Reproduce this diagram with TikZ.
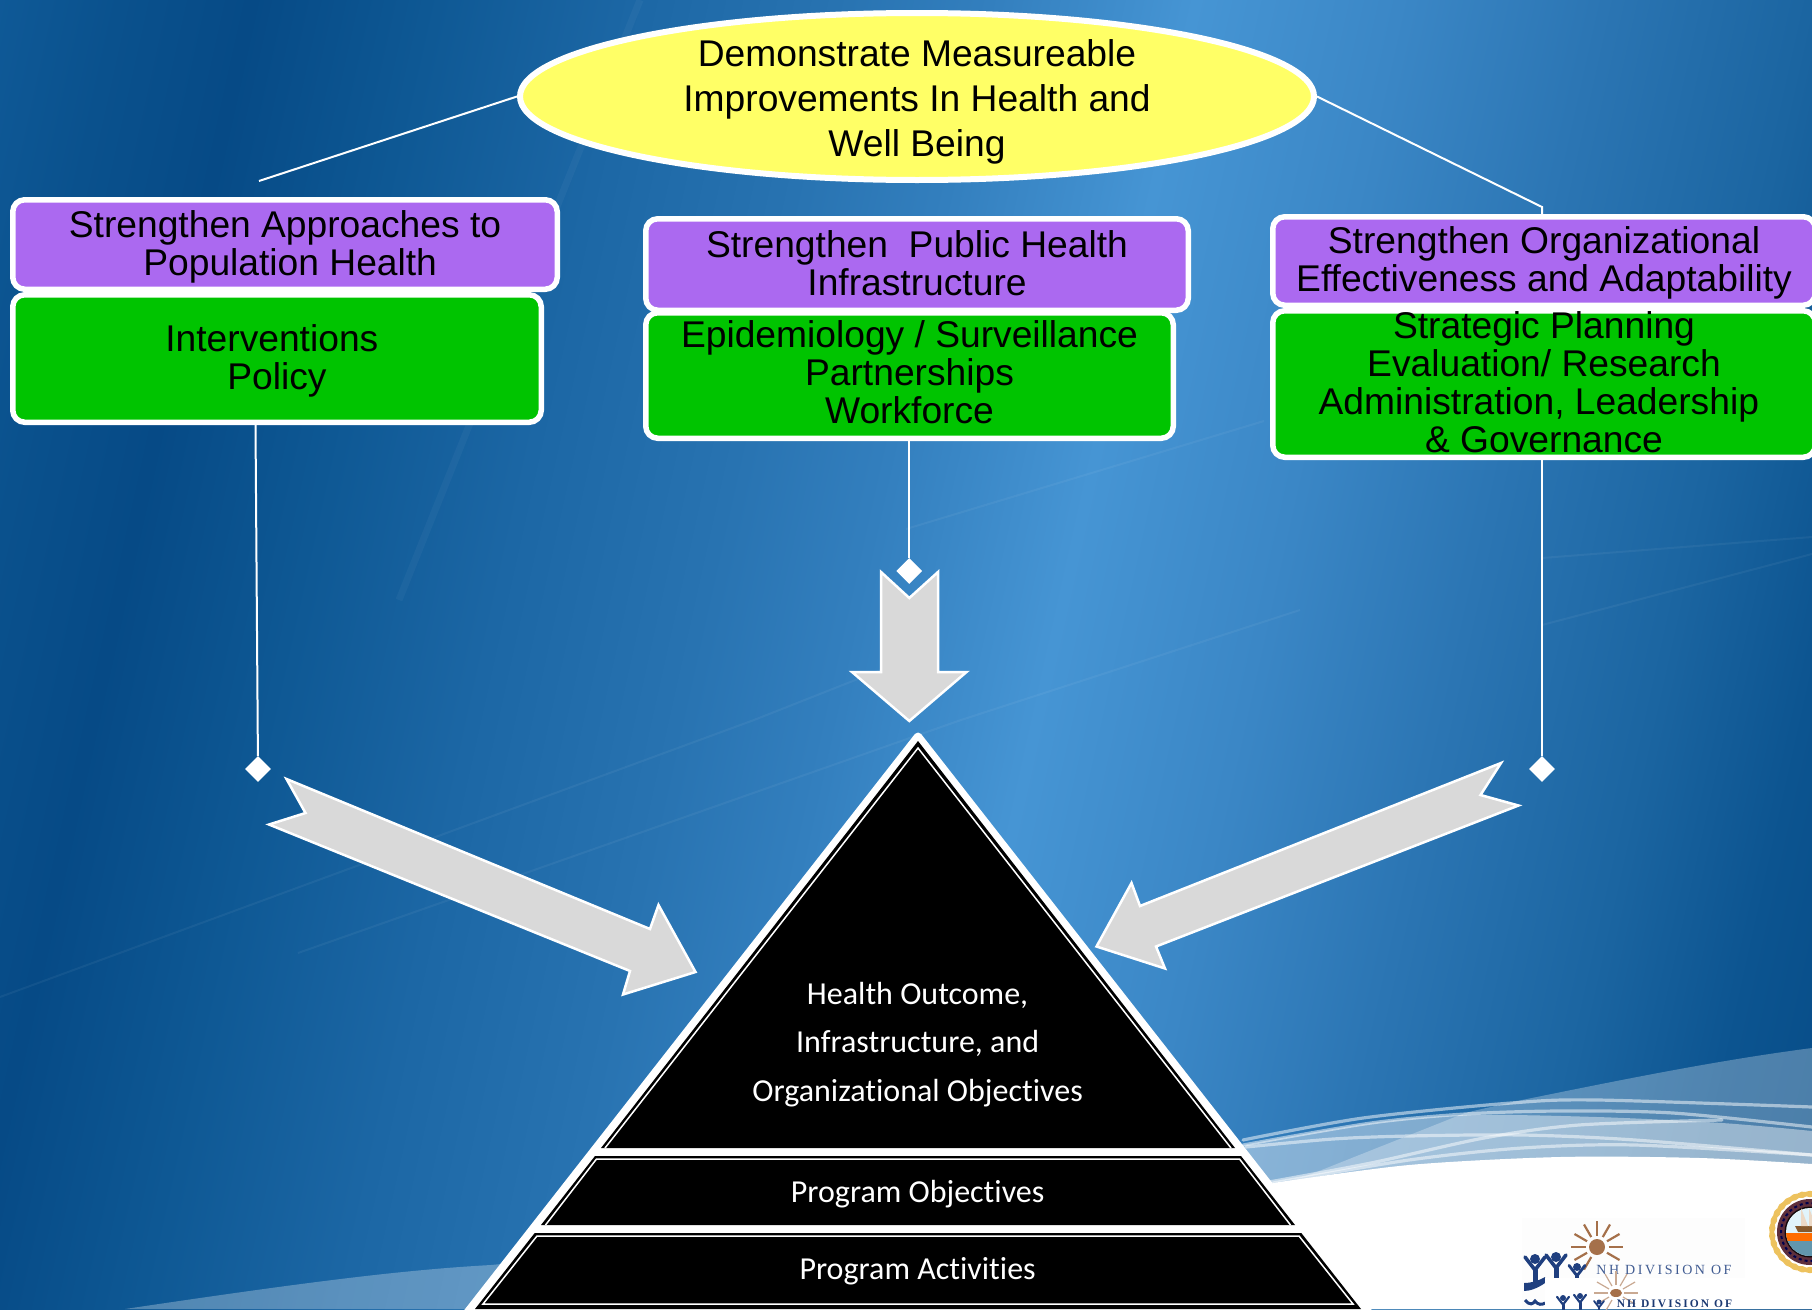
\documentclass[tikz,border=0pt]{standalone}
\usepackage{fontspec}
\usetikzlibrary{shapes.geometric}
\setmainfont{Liberation Sans}
\newfontfamily\pyrfont[Ligatures=NoCommon]{Carlito}
\newfontfamily\logofont[LetterSpace=18]{Liberation Serif}
\definecolor{bgA}{HTML}{125F9E}\definecolor{bgB}{HTML}{0A518D}\definecolor{bgC}{HTML}{064A86}
\definecolor{bgD}{HTML}{0E5894}\definecolor{bgE}{HTML}{1C67A5}\definecolor{bgF}{HTML}{2873B1}
\definecolor{bgG}{HTML}{337FBE}\definecolor{bgH}{HTML}{4695D4}\definecolor{bgI}{HTML}{3B87C6}
\definecolor{bgJ}{HTML}{2B75B3}\definecolor{bgK}{HTML}{1B65A1}\definecolor{bgL}{HTML}{0C5490}
\definecolor{bgM}{HTML}{054A85}
\pgfdeclarehorizontalshading{bgh}{3000pt}{
 color(0pt)=(bgA);color(200pt)=(bgB);color(330pt)=(bgC);color(500pt)=(bgD);color(700pt)=(bgE);
 color(900pt)=(bgF);color(1050pt)=(bgG);color(1250pt)=(bgH);color(1450pt)=(bgI);color(1650pt)=(bgJ);
 color(1850pt)=(bgK);color(2000pt)=(bgL);color(2150pt)=(bgM);color(2400pt)=(bgM)}
\definecolor{pbox}{HTML}{AB69F0}
\definecolor{gbox}{HTML}{00C400}
\definecolor{ybox}{HTML}{FFFF66}
\definecolor{arrowgray}{HTML}{D9D9D9}
\definecolor{sunc}{HTML}{A5704A}
\definecolor{navy}{HTML}{1F3F7F}
\definecolor{laurel}{HTML}{EDC25E}
\definecolor{sealring}{HTML}{5E2F3C}
\tikzset{
  rbox/.style={rectangle,rounded corners=12pt,draw=white,line width=5.5pt,inner sep=0pt,align=center,text=black,
    font=\fontsize{37.2}{38}\selectfont},
  purplebox/.style={rbox,fill=pbox},
  greenbox/.style={rbox,fill=gbox},
  goal/.style={ellipse,draw=white,fill=ybox,line width=6pt,inner xsep=0pt,inner ysep=-22pt,align=center,
    font=\fontsize{37.2}{45}\selectfont},
  link/.style={draw=white,line width=2pt},
  pin/.style={diamond,fill=white,minimum width=26pt,minimum height=26pt,inner sep=0pt},
  bigarrow/.style={fill=arrowgray,draw=white,line width=2.5pt,miter limit=10},
  pyrtext/.style={text=white,font=\pyrfont\fontsize{32}{36}\selectfont,inner sep=0pt},
  streak/.style={draw=white,opacity=.05,line width=2pt},
  wideStreak/.style={draw=white,opacity=.035,line width=7pt},
  swoosh/.style={draw=white,opacity=.5,line width=3.2pt,line cap=round},
  sunray/.style={draw=sunc,line width=2.2pt},
  person/.style={draw=navy,line cap=round}
}
\newcommand{\figperson}[3]{% x, y, scale
  \begin{scope}[shift={(#1,#2)},scale=#3]
  \fill[navy] (0,0) circle (5);
  \draw[person,line width=#3*3.6pt] (-10,-2) -- (0,11) -- (10,-2);
  \draw[person,line width=#3*5pt] (0,11) -- (0,24);
  \end{scope}
}
\begin{document}
\begin{tikzpicture}[x=1pt,y=-1pt]
\useasboundingbox (0,0) rectangle (1812,1309);
\clip (0,0) rectangle (1812,1309);
% background
\fill[bgM] (0,0) rectangle (1812,1309);
\node[rotate=-12.5,inner sep=0pt] (bg) at (1000,650) {\pgfuseshading{bgh}};
% faint streaks
\draw[streak] (0,997) -- (754,720) -- (906,660);
\draw[streak] (298,953) -- (961,720) -- (1300,610);
\draw[streak] (906,529) -- (1264,421);
\draw[streak] (1542,558) -- (1812,537);
\draw[streak] (1542,625) -- (1812,554);
\draw[wideStreak] (640,0) -- (399,600);
% swoosh
\fill[white,opacity=.28] (125,1309) .. controls (300,1283) and (400,1270) .. (491,1265)
   .. controls (800,1235) and (1200,1215) .. (1314,1173) -- (1465,1113) .. controls (1485,1108) and (1505,1104) .. (1522,1100)
   .. controls (1630,1078) and (1720,1060) .. (1812,1048) -- (1812,1309) -- cycle;
\fill[white,opacity=.42] plot[smooth] coordinates {(1243,1145) (1371,1123) (1465,1115) (1597,1117) (1722,1123) (1812,1131)}
   -- (1812,1309) -- (1243,1309) -- cycle;
\draw[swoosh] plot[smooth] coordinates {(1243,1140) (1363,1118) (1511,1103) (1597.5,1100) (1812,1107)};
\draw[swoosh] plot[smooth] coordinates {(1243,1145) (1371,1123) (1465,1114) (1560,1111) (1673,1113) (1812,1127)};
\draw[swoosh] plot[smooth] coordinates {(1246,1147) (1333,1139) (1409,1136) (1522,1135) (1635,1140) (1812,1155)};
\draw[swoosh] plot[smooth] coordinates {(1269,1182) (1371,1163) (1484,1138) (1579,1125) (1722,1120)};
\draw[swoosh] plot[smooth] coordinates {(1273,1183) (1409,1160) (1522,1148) (1635,1145) (1812,1155)};
\fill[white] plot[smooth] coordinates {(1273,1183) (1409,1165) (1560,1157) (1700,1158) (1812,1164)}
   -- (1812,1309) -- (1273,1309) -- cycle;
% logos
\fill[black!.7] (1522,1218) rectangle (1745,1309);
\foreach \a in {0,30,120,150,180,210,240,270,300,330}
  \draw[sunray] (1597,1247) ++(\a:11.5) -- ++(\a:14.5);
\fill[sunc] (1597,1247) circle (8);
\figperson{1535}{1259}{1}
\figperson{1556}{1257}{1}
\figperson{1577}{1267}{.8}
\fill[navy] (1524,1283) .. controls (1532,1283) and (1540,1280) .. (1545,1277) -- (1545,1283) .. controls (1538,1288) and (1530,1291) .. (1524,1291) -- cycle;
\draw[navy,line width=3pt] (1525,1300) .. controls (1530,1306) and (1533,1304) .. (1535,1301) .. controls (1538,1305) and (1542,1305) .. (1545,1303);
\node[text=navy!85!white,font=\logofont\fontsize{14}{15}\selectfont,inner sep=0pt] (logoa) at (1664,1270) {NH DIVISION OF};
\fill[white] (1545,1278) rectangle (1765,1309);
\foreach \a in {0,30,120,150,180,210,240,270,300,330}
  \draw[draw=sunc!60!white,line width=1.2pt] (1616,1293) ++(\a:8) -- ++(\a:14);
\fill[sunc] (1616,1293) ellipse (6 and 4);
\figperson{1563}{1298}{.6}
\figperson{1580}{1296}{.6}
\figperson{1599}{1302}{.5}
\node[text=navy!90!black,font=\logofont\bfseries\fontsize{11.5}{12}\selectfont,inner sep=0pt] (logob) at (1674.5,1304) {NH DIVISION OF};
% seal
\fill[white] (1762,1185) rectangle (1812,1280);
\foreach \a in {-90,-78,...,90}
  \fill[laurel,rotate around={\a:(1810,1232)}] (1772,1232) ellipse (3.2 and 5.5);
\fill[sealring] (1810,1232) circle (33);
\draw[black!70!blue,line width=2pt,dash pattern=on 3pt off 3pt] (1810,1232) circle (29);
\fill[black!80!sealring] (1810,1232) circle (25.5);
\fill[black!10!cyan!12!white] (1810,1232) circle (24);
\fill[brown!70!black] (1795,1226) -- (1815,1226) -- (1812,1232) -- (1798,1232) -- cycle;
\fill[white!70!brown] (1801,1226) -- (1801,1208) -- (1808,1226) -- cycle;
\fill[white!70!brown] (1809,1226) -- (1809,1208) -- (1816,1226) -- cycle;
\begin{scope}
  \clip (1810,1232) circle (24);
  \fill[orange!85!red] (1780,1233) rectangle (1840,1241);
  \fill[black!25!cyan!60!gray] (1780,1241) rectangle (1840,1260);
\end{scope}
% top goal
\node[goal,minimum width=794pt,minimum height=167pt] (goal) at (917,96.5)
  {Demonstrate Measureable\\Improvements In Health and\\Well Being\par\vspace{-11pt}};
% boxes
\node[purplebox,minimum width=544.5pt,minimum height=89.5pt] (p1) at (285,244.5)
  {Strengthen Approaches to\\\mbox{\ Population Health}\par\vspace{-4.6pt}};
\node[greenbox,minimum width=528.5pt,minimum height=127.5pt] (g1) at (277,358.5)
  {\mbox{Interventions\ }\\Policy\par\vspace{-4.6pt}};
\node[purplebox,minimum width=542.5pt,minimum height=91.5pt] (p2) at (917,264.5)
  {Strengthen\ \ Public Health\\Infrastructure\par\vspace{2pt}};
\node[greenbox,minimum width=527.5pt,minimum height=125.5pt] (g2) at (909.5,375.5)
  {Epidemiology / Surveillance\\Partnerships\\Workforce\par\vspace{7pt}};
\node[purplebox,minimum width=542.5pt,minimum height=88.5pt] (p3) at (1544,261)
  {Strengthen Organizational\\Effectiveness and Adaptability\par\vspace{-4.6pt}};
\node[greenbox,minimum width=542.5pt,minimum height=146.5pt,inner ysep=-8pt] (g3) at (1544,384)
  {Strategic Planning\\Evaluation/ Research\\\mbox{Administration, Leadership\ }\\\& Governance\par\vspace{4.3pt}};
% pins and connectors
\node[pin] (d1) at (258,769) {};
\node[pin] (d2) at (909.3,571) {};
\node[pin] (d3) at (1542,769) {};
\coordinate (cl) at (259,181);
\coordinate (cr) at (1542,207);
\draw[link] (goal.west) -- (cl);
\draw[link] (goal.east) -- (cr) -- (cr |- p3.north);
\draw[link] ([xshift=-21.5pt]g1.south) -- (d1);
\draw[link] (d2 |- g2.south) -- (d2);
\draw[link] (d3 |- g3.south) -- (d3);
% block arrows
\path[bigarrow] (881,572) -- (909.3,598) -- (938,572) -- (938,672) -- (966.5,672) -- (909.3,721) -- (852,672) -- (881,672) -- cycle;
\path[bigarrow] (286.5,779) -- (305.5,813) -- (269,824.5) -- (630,971) -- (623,994.5) -- (695.5,972) -- (658.5,905) -- (650,929) -- cycle;
\path[bigarrow] (1501,763) -- (1480.5,795) -- (1518.5,805.5) -- (1156,946.5) -- (1165,968.5) -- (1096.5,946.5) -- (1131.5,883) -- (1140,906) -- cycle;
% pyramid
\filldraw[fill=white,draw=white,line width=8pt,line join=round] (918,736.5) -- (1369,1313) -- (467,1313) -- cycle;
\fill[black] (918,741) -- (1235,1148) -- (601,1148) -- cycle;
\draw[white,line width=1.5pt] (605,1148) -- (918,748) -- (1231,1148);
\fill[black] (595,1156) -- (1241,1156) -- (1295,1225) -- (541,1225) -- cycle;
\draw[white,line width=1.5pt] (545.5,1225) -- (596.5,1159) -- (1239.5,1159) -- (1290.5,1225);
\fill[black] (534.7,1233) -- (1301.3,1233) -- (1361,1309) -- (475,1309) -- cycle;
\draw[white,line width=1.5pt] (537,1236) -- (1299,1236) -- (1353,1304) -- (483,1304) -- cycle;
\node[pyrtext] (t1) at (917.6,995.5) {Health Outcome,};
\node[pyrtext] (t2) at (917.6,1043.5) {Infrastructure, and};
\node[pyrtext] (t3) at (917.6,1093) {Organizational Objectives};
\node[pyrtext] (t4) at (917.6,1194) {Program Objectives};
\node[pyrtext] (t5) at (917.6,1271) {Program Activities};
\end{tikzpicture}
\end{document}
